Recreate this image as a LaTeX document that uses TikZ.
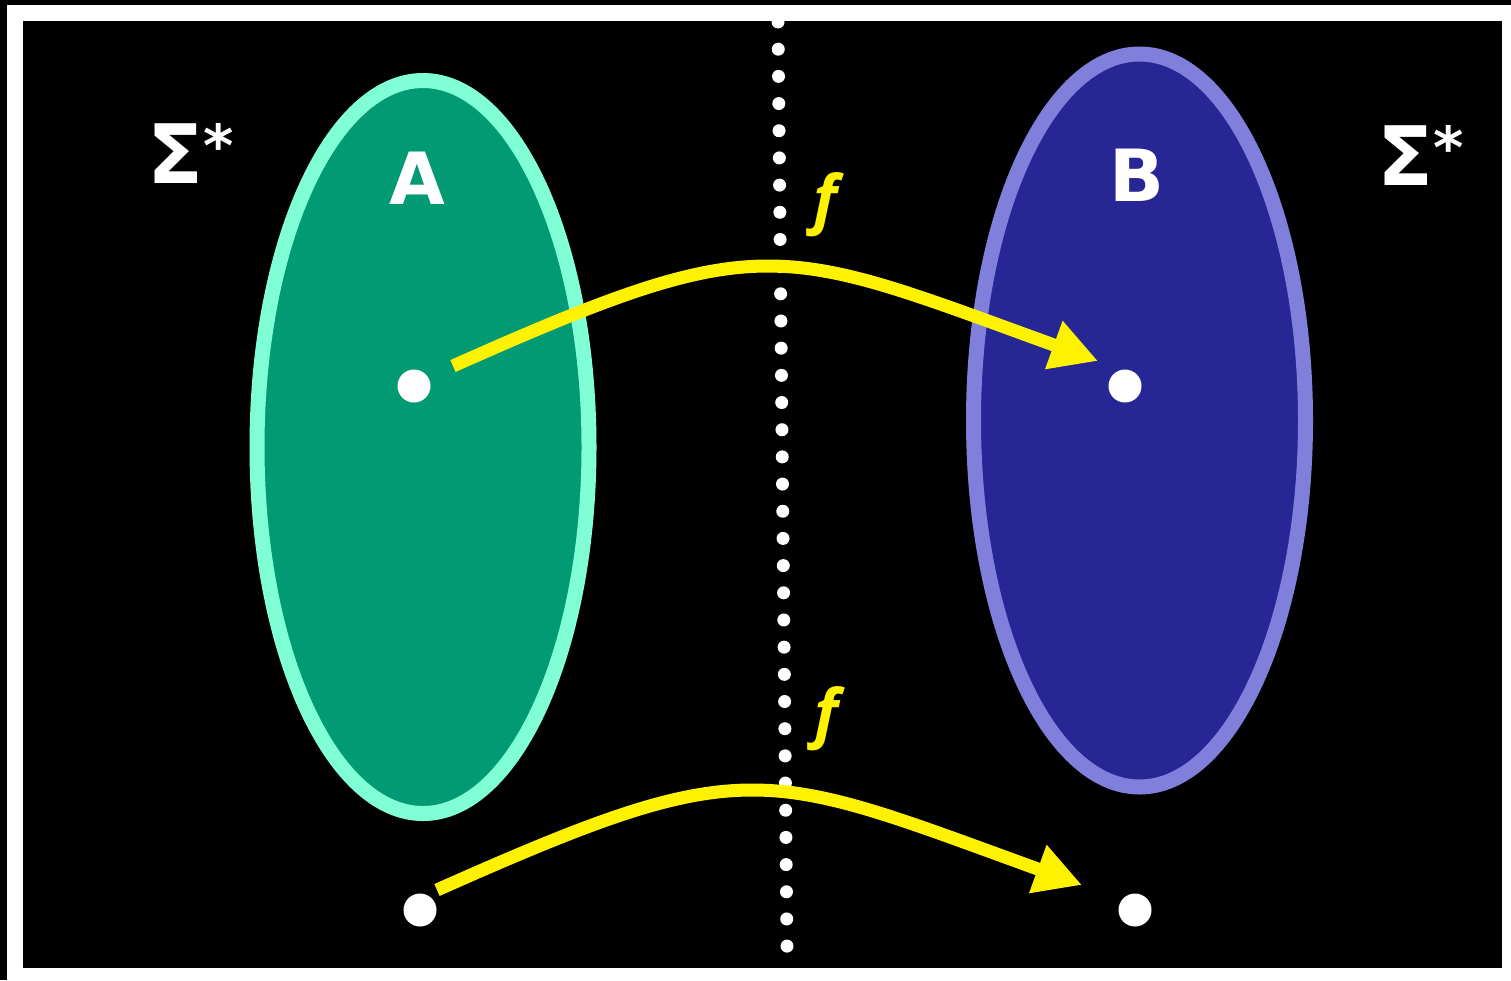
\documentclass[tikz,border=0pt]{standalone}
\usepackage{fontspec}
\setmainfont{DejaVu Sans}
\newfontfamily\fnfont{Open Sans}
\usetikzlibrary{arrows.meta,shapes.geometric}
\definecolor{setAfill}{RGB}{1,154,114}
\definecolor{setAline}{RGB}{128,255,215}
\definecolor{setBfill}{RGB}{38,38,148}
\definecolor{setBline}{RGB}{128,128,220}
\begin{document}
\begin{tikzpicture}[x=1pt,y=-1pt,>={Triangle[length=47pt,width=48pt]},line join=round]
	\tikzset{set/.style={ellipse,draw,line width=15pt,minimum width=332pt,minimum height=733pt,inner sep=0pt},
		elem/.style={circle,fill=white,minimum size=33pt,inner sep=0pt},
		fn/.style={->,yellow,line width=13pt},
		lbl/.style={text=white,font=\bfseries\fontsize{72}{72}\selectfont},
		sig/.style={text=white,font=\bfseries\fontsize{82}{82}\selectfont},
		fnlbl/.style={text=yellow,font=\fnfont\bfseries\itshape\fontsize{64}{64}\selectfont}}
	\useasboundingbox (0,0) rectangle (1511,980);
	% frame
	\fill[black] (0,0) rectangle (1511,980);
	\fill[white] (7,5) rectangle (1511,980);
	\fill[black] (23,21) rectangle (1502,968);
	% the two sets
	\node[set,fill=setAfill,draw=setAline] (setA) at (423,447) {};
	\node[set,fill=setBfill,draw=setBline] (setB) at (1139.5,420.5) {};
	\node[lbl] (labA) at (417,178) {A};
	\node[lbl] (labB) at (1137,175) {B};
	\node[sig] (sigL) at (191,153) {Σ\raisebox{17pt}{\fontsize{58}{58}\selectfont*}};
	\node[sig] (sigR) at (1421,155) {Σ\raisebox{17pt}{\fontsize{58}{58}\selectfont*}};
	% dotted divider
	\begin{scope}
		\clip (23,21) rectangle (1502,968);
		\foreach \i in {0,...,34}
			\fill[white] ({778+9*\i/34},{22+27.18*\i}) circle (6.5);
	\end{scope}
	% elements
	\node[elem] (a1) at (414,386) {};
	\node[elem] (b1) at (1125,386) {};
	\node[elem] (a2) at (420,910) {};
	\node[elem] (b2) at (1135,910) {};
	\coordinate (s1) at (453,366);
	\coordinate (t1) at (1098,361);
	\coordinate (s2) at (437,890);
	\coordinate (t2) at (1082,885);
	\draw[fn] (s1) .. controls +(312,-139) and +(-320,-116) .. (t1);
	\draw[fn] (s2) .. controls +(312,-139) and +(-320,-116) .. (t2);
	\node[fnlbl] (f1) at (825,205) {f};
	\node[fnlbl] (f2) at (826,719) {f};
\end{tikzpicture}
\end{document}
